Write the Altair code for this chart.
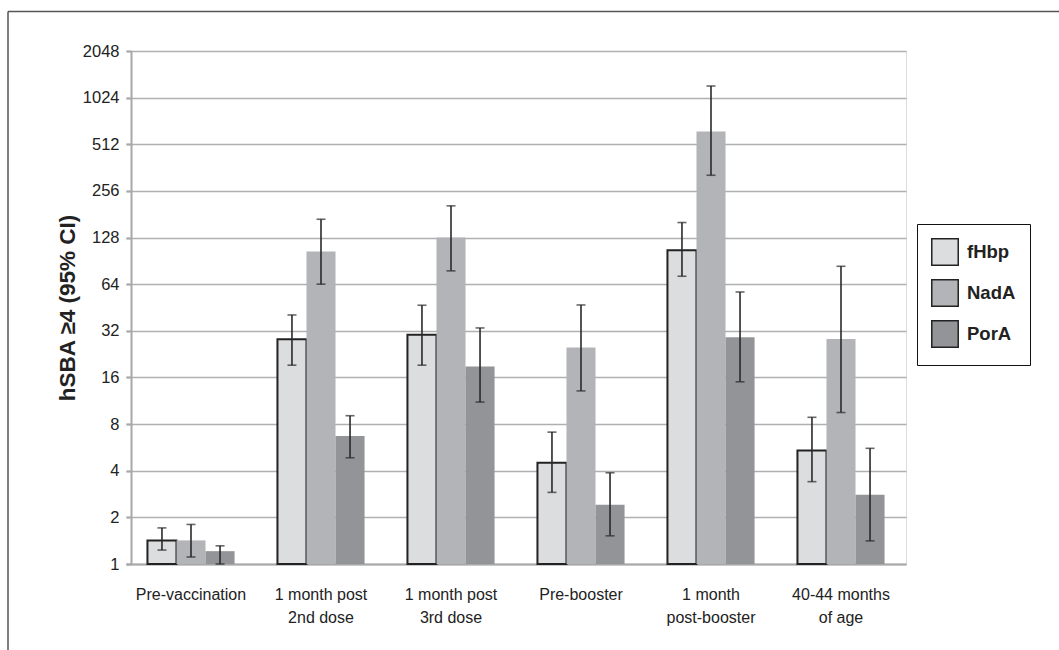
import altair as alt
import pandas as pd

# Time points (x categories); "|" marks a line break in the axis label
groups = [
    "Pre-vaccination",
    "1 month post|2nd dose",
    "1 month post|3rd dose",
    "Pre-booster",
    "1 month|post-booster",
    "40-44 months|of age",
]
antigens = ["fHbp", "NadA", "PorA"]

# Geometric mean titres and 95% CI bounds per antigen
fhbp = [1.42, 28.2, 30.2, 4.5, 106, 5.4]
fhbp_lo = [1.23, 19.2, 19.2, 2.9, 72, 3.4]
fhbp_hi = [1.71, 40.5, 46.8, 7.1, 160, 8.85]

nada = [1.42, 104, 128, 25, 620, 28.3]
nada_lo = [1.11, 64, 78, 13.1, 323, 9.5]
nada_hi = [1.80, 168, 205, 47, 1217, 83.5]

pora = [1.21, 6.7, 18.8, 2.41, 29.1, 2.8]
pora_lo = [1.0, 4.85, 11.1, 1.52, 15.0, 1.41]
pora_hi = [1.31, 9.06, 33.4, 3.88, 57, 5.58]

y_ticks = [1, 2, 4, 8, 16, 32, 64, 128, 256, 512, 1024, 2048]
colors = ["#dcdddf", "#b3b4b7", "#939497"]

series = {
    "fHbp": (fhbp, fhbp_lo, fhbp_hi),
    "NadA": (nada, nada_lo, nada_hi),
    "PorA": (pora, pora_lo, pora_hi),
}
rows = []
for i, g in enumerate(groups):
    for a in antigens:
        v, lo, hi = series[a]
        rows.append({"group": g, "antigen": a, "value": v[i],
                     "lo": lo[i], "hi": hi[i], "base": 1})
df = pd.DataFrame(rows)

FONT = "Liberation Sans, Arial, sans-serif"
W, H = 775, 513

x_enc = alt.X(
    "group:N", sort=groups,
    scale=alt.Scale(range=[-5, W], paddingInner=0.33, paddingOuter=0.165),
    axis=alt.Axis(
        title=None, labelAngle=0, labelExpr="split(datum.label, '|')",
        labelFont=FONT, labelFontSize=16, labelColor="#222",
        labelLineHeight=23, labelPadding=22, ticks=False,
        domainColor="#a8a8a8", domainWidth=2, grid=False,
    ),
)
xo_enc = alt.XOffset("antigen:N", sort=antigens,
                     scale=alt.Scale(paddingInner=0, paddingOuter=0))
y_scale = alt.Scale(type="log", base=2, domain=[1, 2048], nice=False)

base = alt.Chart(df)

bars = base.mark_bar().encode(
    x=x_enc,
    xOffset=xo_enc,
    y=alt.Y(
        "value:Q", scale=y_scale,
        axis=alt.Axis(
            values=y_ticks, format="d", title="hSBA ≥4 (95% CI)",
            titleFont=FONT, titleFontSize=22.5,
            titleFontWeight="bold", titleColor="#222",
            titleX=-64, titleY=H / 2, titleAlign="center",
            titleBaseline="middle", titleAngle=-90,
            labelFont=FONT, labelFontSize=16.5, labelColor="#222",
            labelPadding=7, tickSize=5, tickColor="#a8a8a8", tickWidth=2,
            domainColor="#a8a8a8", domainWidth=2,
            gridColor="#b0b0b0", gridWidth=1.6,
        ),
    ),
    y2="base:Q",
    color=alt.Color(
        "antigen:N", sort=antigens,
        scale=alt.Scale(domain=antigens, range=colors),
        legend=alt.Legend(
            title=None, orient="none", legendX=786, legendY=173,
            symbolType="square", symbolSize=700,
            symbolStrokeColor="#222", symbolStrokeWidth=1.5,
            symbolOpacity=1,
            labelFont=FONT, labelFontSize=18.5, labelFontWeight="bold",
            labelColor="#222", labelOffset=8, rowPadding=7,
            padding=14, strokeColor="#111", fillColor="white",
        ),
    ),
    stroke=alt.condition(alt.datum.antigen == "fHbp",
                         alt.value("#222"), alt.value("transparent")),
    strokeWidth=alt.value(2),
)

err = base.mark_rule(color="#2a2a2a", strokeWidth=1.6).encode(
    x=x_enc, xOffset=xo_enc,
    y=alt.Y("lo:Q", scale=y_scale), y2="hi:Q",
)
cap_hi = base.mark_tick(color="#2a2a2a", thickness=1.6, size=9).encode(
    x=x_enc, xOffset=xo_enc, y=alt.Y("hi:Q", scale=y_scale),
)
cap_lo = base.mark_tick(color="#2a2a2a", thickness=1.6, size=9).encode(
    x=x_enc, xOffset=xo_enc, y=alt.Y("lo:Q", scale=y_scale),
)

# Figure border along the top and left edges
one = pd.DataFrame({"k": [0]})
frame_top = alt.Chart(one).mark_rule(color="#555", strokeWidth=1.5).encode(
    x=alt.value(-123), x2=alt.value(W + 160), y=alt.value(-39.5)
)
frame_left = alt.Chart(one).mark_rule(color="#555", strokeWidth=1.5).encode(
    x=alt.value(-123), y=alt.value(-39.5), y2=alt.value(H + 100)
)

chart = alt.layer(bars, err, cap_hi, cap_lo, frame_top, frame_left).properties(
    width=W, height=H,
    autosize=alt.AutoSizeParams(type="none"),
    padding={"left": 131, "top": 51, "right": 153, "bottom": 86},
).configure_view(stroke=None).configure(background="white")

chart.save("out.html", embed_options={"renderer": "svg", "actions": False})
